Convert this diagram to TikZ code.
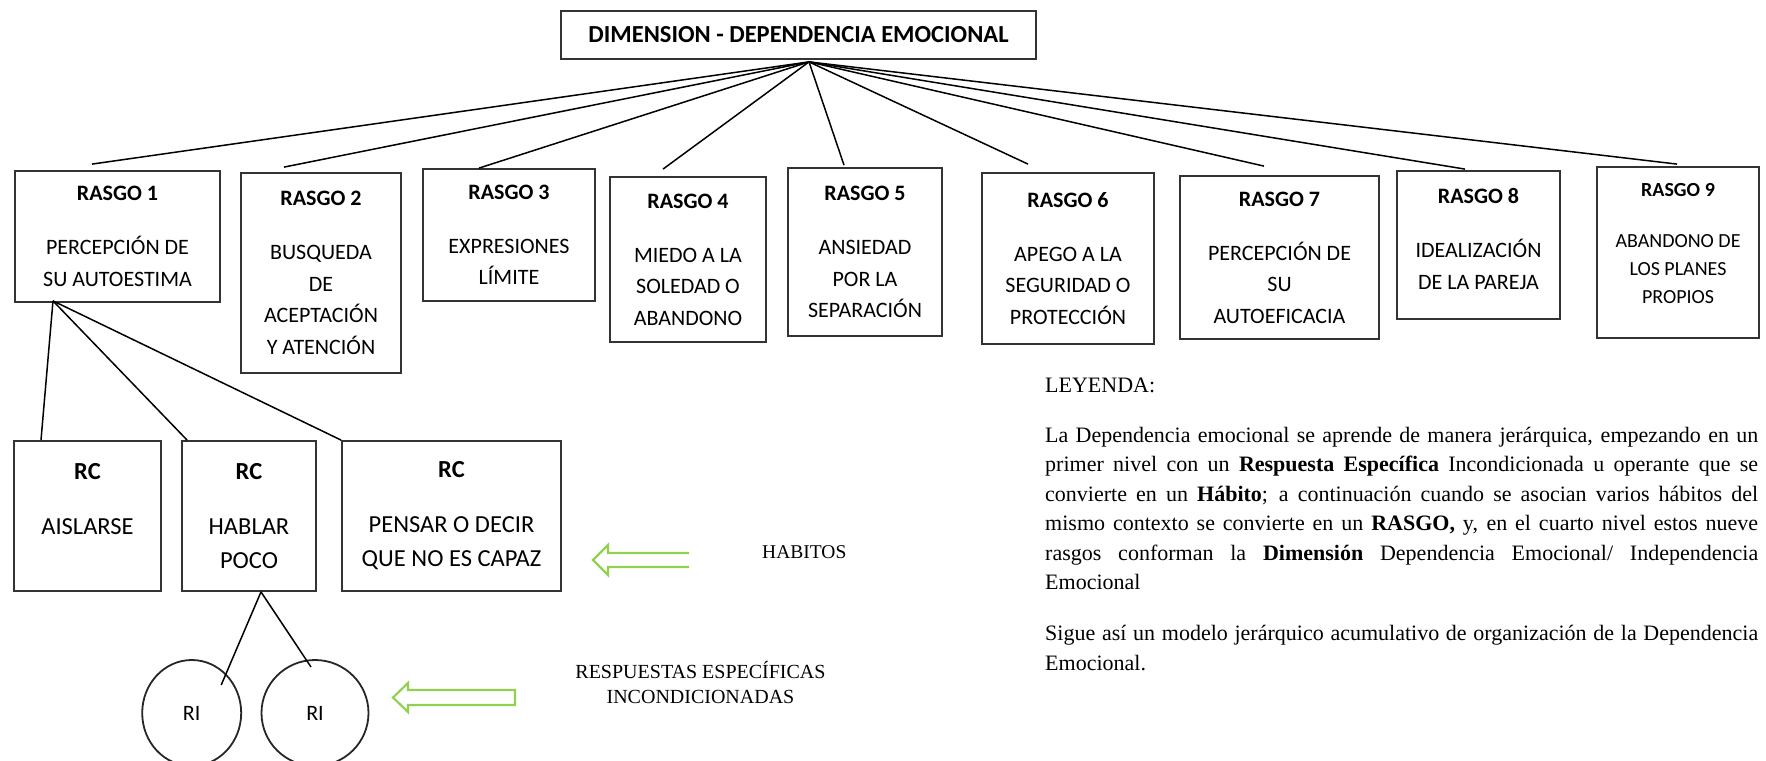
\documentclass[tikz,border=0pt]{standalone}
\usepackage{fontspec}
\setmainfont{Carlito}
\newfontfamily\timesfont{Liberation Serif}
\usetikzlibrary{calc,shapes.geometric}
\definecolor{verdeflecha}{RGB}{146,208,80}

\begin{document}
\begin{tikzpicture}[x=1pt, y=-1pt,
    caja/.style={draw=black!80, line width=1.8pt, align=center, inner sep=0pt},
    rasgo/.style={caja, font=\fontsize{22}{31.5}\selectfont},
    habito/.style={caja, font=\fontsize{24.5}{34}\selectfont},
    respuesta/.style={draw=black!85, ellipse, line width=1.8pt, inner sep=0pt, font=\fontsize{22}{26}\selectfont},
    link/.style={line width=1.5pt},
    flecha/.style={draw=verdeflecha, line width=2.2pt},
    nota/.style={inner sep=0pt, font=\timesfont\fontsize{20}{25}\selectfont}]
    \useasboundingbox (0,0) rectangle (1766,760);
    %Dimension
    \node[caja, font=\bfseries\fontsize{24.5}{28}\selectfont, minimum width=475, minimum height=48] (dim) at (798.5,35) {DIMENSION - DEPENDENCIA EMOCIONAL};
    \coordinate (apex) at ([xshift=10.5pt, yshift=-2pt]dim.south);
    %Rasgos
    \node[rasgo, minimum width=205, minimum height=131] (r1) at (117.5,236.5) {\textbf{RASGO 1}\\[22.5pt]PERCEPCIÓN DE\\SU AUTOESTIMA};
    \node[rasgo, minimum width=160, minimum height=200] (r2) at (321,273) {\textbf{RASGO 2}\\[22.5pt]BUSQUEDA\\DE\\ACEPTACIÓN\\Y ATENCIÓN};
    \node[rasgo, minimum width=172, minimum height=132] (r3) at (509,235) {\textbf{RASGO 3}\\[22.5pt]EXPRESIONES\\LÍMITE};
    \node[rasgo, minimum width=156, minimum height=165] (r4) at (688,259.5) {\textbf{RASGO 4}\\[22.5pt]MIEDO A LA\\SOLEDAD O\\ABANDONO};
    \node[rasgo, minimum width=154, minimum height=168] (r5) at (865,252) {\textbf{RASGO 5}\\[22.5pt]ANSIEDAD\\POR LA\\SEPARACIÓN};
    \node[rasgo, minimum width=172, minimum height=171] (r6) at (1068,258.5) {\textbf{RASGO 6}\\[22.5pt]APEGO A LA\\SEGURIDAD O\\PROTECCIÓN};
    \node[rasgo, minimum width=199, minimum height=163] (r7) at (1279.5,257.5) {\textbf{RASGO 7}\\[22.5pt]PERCEPCIÓN DE\\SU\\AUTOEFICACIA};
    \node[rasgo, minimum width=163, minimum height=148] (r8) at (1478.5,245) {\textbf{RASGO 8}\\[22.5pt]IDEALIZACIÓN\\DE LA PAREJA\\[-19pt]\mbox{}};
    \node[rasgo, font=\fontsize{20}{28}\selectfont, minimum width=162, minimum height=171] (r9) at (1678,252.5) {\textbf{RASGO 9}\\[23pt]ABANDONO DE\\LOS PLANES\\PROPIOS\\[-10pt]\mbox{}};
    \foreach \n/\dx/\dy in {r1/-25.5/6, r2/-37/5, r3/-30/0, r4/-25/7, r5/-21/2, r6/-40/8, r7/-15.5/9, r8/-13.5/1, r9/-1/2}
        \draw[link] (apex) -- ([xshift=\dx, yshift=\dy]\n.north);
    %Habitos
    \node[habito, minimum width=147, minimum height=150] (rc1) at (87.5,516) {\textbf{RC}\\[21pt]AISLARSE\\\mbox{}};
    \node[habito, minimum width=134, minimum height=150] (rc2) at (249,516) {\textbf{RC}\\[21pt]HABLAR\\POCO};
    \node[habito, minimum width=219, minimum height=150] (rc3) at (451.5,516) {\textbf{RC}\\[21pt]PENSAR O DECIR\\QUE NO ES CAPAZ};
    \coordinate (r1pie) at ([xshift=-64.5pt, yshift=2pt]r1.south);
    \draw[link] (r1pie) -- ([xshift=-46.5pt]rc1.north);
    \draw[link] (r1pie) -- ([xshift=6pt]rc2.north west);
    \draw[link] (r1pie) -- (rc3.north west);
    %Respuestas incondicionadas
    \node[respuesta, minimum width=99, minimum height=106] (ri1) at (191.7,713) {RI};
    \node[respuesta, minimum width=107, minimum height=106] (ri2) at (315,713) {RI};
    \coordinate (rc2pie) at ([xshift=12pt]rc2.south);
    \draw[link] (rc2pie) -- ($(ri1)+(29.5,-28)$);
    \draw[link] (rc2pie) -- ($(ri2)+(-4,-46)$);
    %Flechas
    \draw[flecha] (689,553) -- (608,553) -- (608,545) -- (593,560) -- (608,575) -- (608,567) -- (689,567);
    \draw[flecha] (515,690) -- (408,690) -- (408,683) -- (393,697.5) -- (408,712) -- (408,705) -- (515,705) -- cycle;
    \node[nota, font=\timesfont\fontsize{19.5}{24}\selectfont, anchor=base west] (habitos) at (762,558) {HABITOS};
    \node[nota, align=center] (respuestas) at (700.5,683) {RESPUESTAS ESPECÍFICAS\\INCONDICIONADAS};
    %Leyenda
    \node[nota, font=\timesfont\fontsize{22}{29.5}\selectfont, text width=713pt, align=justify, anchor=north west] (leyenda) at (1045,377.4)
        {\tolerance=10000 LEYENDA:\par\vspace{20.5pt}
        La Dependencia emocional se aprende de manera jerárquica, empezando en un\linebreak
        primer nivel con un \textbf{Respuesta Específica} Incondicionada u operante que se\linebreak
        convierte en un \textbf{Hábito}; a continuación cuando se asocian varios hábitos del\linebreak
        mismo contexto se convierte en un \textbf{RASGO,} y, en el cuarto nivel estos nueve\linebreak
        rasgos conforman la \textbf{Dimensión} Dependencia Emocional/ Independencia\linebreak
        Emocional\par\vspace{21.5pt}
        Sigue así un modelo jerárquico acumulativo de organización de la Dependencia\linebreak
        Emocional.};
\end{tikzpicture}
\end{document}
